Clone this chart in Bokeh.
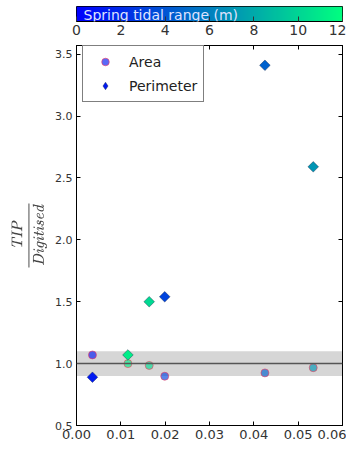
import numpy as np
from bokeh.plotting import figure
from bokeh.layouts import column
from bokeh.models import (ColumnDataSource, LinearColorMapper, FixedTicker, LinearAxis,
                          BoxAnnotation, Span, Label, Legend, LegendItem,
                          NumeralTickFormatter, Range1d)
from bokeh.transform import transform
from bokeh.embed import file_html
from bokeh.resources import INLINE

# Site values: shape ratio (x), spring tidal range (colour),
# and TIP / digitised ratios for area and perimeter.
ratio = [0.0036, 0.0116, 0.0164, 0.0199, 0.0425, 0.0534]
tidal_range = [1.2, 11.2, 10.2, 3.2, 4.6, 7.0]
area_tip = [1.07, 1.00, 0.985, 0.898, 0.925, 0.967]
perimeter_tip = [0.89, 1.07, 1.50, 1.54, 3.41, 2.59]

x_ticks = [0.0, 0.01, 0.02, 0.03, 0.04, 0.05, 0.06]
y_ticks = [0.5, 1.0, 1.5, 2.0, 2.5, 3.0, 3.5]
cbar_ticks = [0, 2, 4, 6, 8, 10, 12]
tidal_low, tidal_high = 0, 12

FONT = "DejaVu Sans"

# "winter" colour ramp: blue -> spring green
t = np.linspace(0.0, 1.0, 256)
winter = ["#%02x%02x%02x" % (0, int(round(255 * v)), int(round(255 * (1 - 0.5 * v)))) for v in t]
mapper = LinearColorMapper(palette=winter, low=tidal_low, high=tidal_high)


def style_axis(ax, ticks, font_size=None):
    ax.ticker = FixedTicker(ticks=ticks)
    ax.axis_line_color = "black"
    ax.major_tick_line_color = "black"
    ax.major_tick_in = 4
    ax.major_tick_out = 0
    ax.minor_tick_line_color = None
    ax.major_label_text_font = FONT
    ax.major_label_text_color = "#333333"
    if font_size is None:
        ax.major_label_overrides = {tk: "" for tk in ticks}
        ax.major_label_standoff = 0
        ax.major_label_text_font_size = "1px"
    else:
        ax.major_label_text_font_size = font_size
        ax.major_label_standoff = 4


# ---- colour bar strip -------------------------------------------------------
cbf = figure(width=346, height=44, output_backend="svg", toolbar_location=None,
             x_range=Range1d(tidal_low, tidal_high), y_range=Range1d(0, 1),
             min_border_left=76, min_border_right=4, min_border_top=6, min_border_bottom=23,
             x_axis_location=None, y_axis_location=None)
cbf.grid.visible = False
cbf.outline_line_color = "black"
cbf.border_fill_color = "white"
ramp = np.linspace(tidal_low, tidal_high, 256)[None, :]
cbf.image(image=[ramp], x=tidal_low, y=0, dw=tidal_high - tidal_low, dh=1, color_mapper=mapper)
cb_axis = LinearAxis()
style_axis(cb_axis, cbar_ticks, "14px")
cb_axis.major_tick_in = 5
cb_axis.major_tick_line_color = "#333333"
cb_axis.major_label_standoff = 3
cbf.add_layout(cb_axis, "below")
cbf.add_layout(Label(x=7, y=7, x_units="screen", y_units="screen",
                     text="Spring tidal range (m)", text_font=FONT, text_font_size="14px",
                     text_color="#dfe2ff", text_baseline="middle"))

# ---- main scatter -----------------------------------------------------------
src = ColumnDataSource(dict(ratio=ratio, tidal=tidal_range, area=area_tip, perim=perimeter_tip))

p = figure(width=346, height=413, output_backend="svg", toolbar_location=None,
           x_range=Range1d(0.0, 0.06), y_range=Range1d(0.5, 3.57),
           min_border_left=76, min_border_right=4, min_border_top=1, min_border_bottom=32,
           x_axis_location=None, y_axis_location=None)
p.grid.visible = False
p.outline_line_color = "black"
p.border_fill_color = "white"

xb = LinearAxis()
style_axis(xb, x_ticks, "13px")
xb.formatter = NumeralTickFormatter(format="0.00")
p.add_layout(xb, "below")

yl = LinearAxis()
style_axis(yl, y_ticks, "11px")
yl.formatter = NumeralTickFormatter(format="0.0")
yl.axis_label = r"$$\frac{\mathit{TIP}}{\mathit{Digitised}}$$"
yl.axis_label_text_font_size = "13px"
yl.axis_label_standoff = 5
p.add_layout(yl, "left")

yr = LinearAxis()
style_axis(yr, y_ticks)
p.add_layout(yr, "right")

xt = LinearAxis()
style_axis(xt, x_ticks)
p.add_layout(xt, "above")

# +/- 10 % agreement band around a ratio of one
p.add_layout(BoxAnnotation(bottom=0.9, top=1.1, fill_color="#d6d6d6", fill_alpha=1.0,
                           line_color=None, level="underlay"))
p.add_layout(Span(location=1.0, dimension="width", line_color="#555555", line_width=1.5))

area_r = p.scatter("ratio", "area", source=src, marker="circle", size=8,
                   fill_color=transform("tidal", mapper), fill_alpha=0.65,
                   line_color="#ff3050", line_alpha=0.55, line_width=1)
p.scatter("ratio", "perim", source=src, marker="square", size=7.5, angle=np.pi / 4,
          fill_color=transform("tidal", mapper),
          line_color="#102040", line_alpha=0.5, line_width=0.8)

# legend swatch for the perimeter series (rotated squares show unrotated in legends)
first_colour = winter[int(round((tidal_range[0] - tidal_low) / (tidal_high - tidal_low) * 255))]
perim_key = p.scatter(x=[np.nan], y=[np.nan], marker="diamond", size=14,
                      fill_color=first_colour, line_color="#102040",
                      line_alpha=0.5, line_width=0.8)

legend = Legend(items=[LegendItem(label="Area", renderers=[area_r], index=0),
                       LegendItem(label="Perimeter", renderers=[perim_key], index=0)],
                location=(6, 323), border_line_color="black", border_line_width=1,
                label_text_font=FONT, label_text_font_size="14px", label_text_color="#222222",
                glyph_width=32, glyph_height=19, label_standoff=8, spacing=5,
                padding=6, margin=0, background_fill_alpha=1.0)
p.add_layout(legend)

open("out.html", "w").write(file_html(column(cbf, p, spacing=0), INLINE))
